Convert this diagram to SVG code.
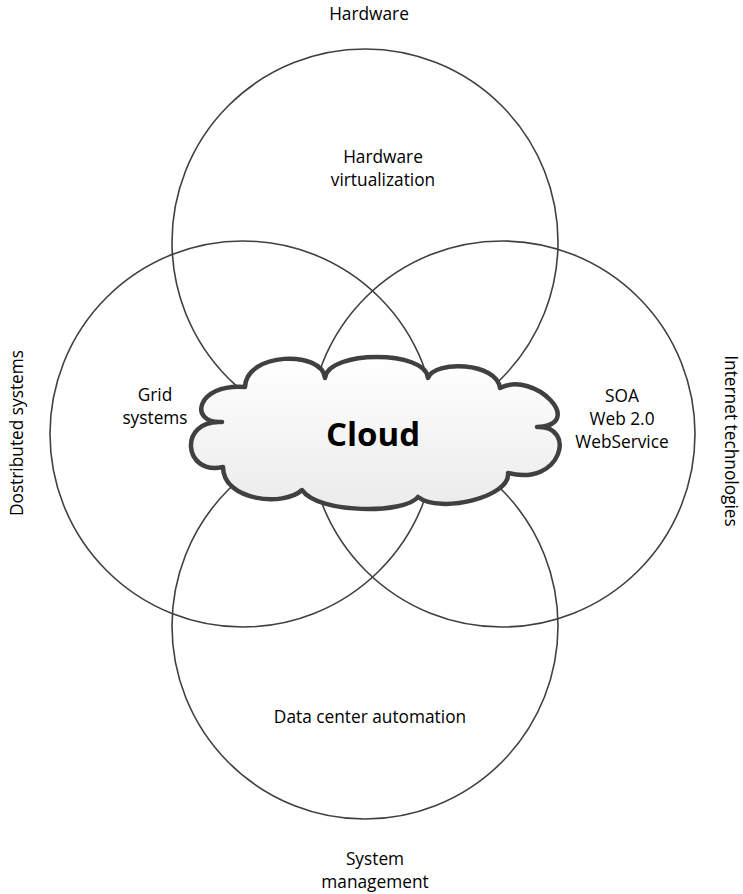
<svg xmlns="http://www.w3.org/2000/svg" width="743" height="894" viewBox="0 0 743 894">
<defs>
<linearGradient id="cloudFill" x1="0" y1="0" x2="0" y2="1">
<stop offset="0" stop-color="#ffffff"/>
<stop offset="1" stop-color="#ebebeb"/>
</linearGradient>
</defs>
<style>
.ring{fill:none;stroke:#404040;stroke-width:1.6}
.lbl{font-family:"Open Sans","Noto Sans","Liberation Sans",sans-serif;font-size:17.3px;fill:#000;text-anchor:middle}
.big{font-family:"Open Sans","Noto Sans","Liberation Sans",sans-serif;font-size:33px;font-weight:bold;fill:#000;text-anchor:middle}
</style>
<rect width="743" height="894" fill="#ffffff"/>
<g id="circle-hardware"><circle class="ring" cx="365" cy="242" r="193"/></g>
<g id="circle-distributed"><circle class="ring" cx="243" cy="434" r="193"/></g>
<g id="circle-internet"><circle class="ring" cx="502" cy="434" r="193"/></g>
<g id="circle-management"><circle class="ring" cx="365" cy="626" r="193"/></g>
<g id="connectors"/>
<g id="cloud">
<path d="M245,387 C246,352 322,350 325,378 C328,350 426,350 428,378 C434,360 497,362 500,388 C535,370 587,425 537,427 C577,425 562,487 508,473 C511,497 440,514 418,497 C405,514 318,514 302,490 C284,507 223,501 223,467 C183,476 178,419 222,422 C188,424 196,383 245,387 Z" fill="url(#cloudFill)" stroke="#404040" stroke-width="4.5" stroke-linejoin="round"/>
<text class="big" x="373" y="446">Cloud</text>
</g>
<g id="label-hardware"><text class="lbl" x="369" y="20">Hardware</text></g>
<g id="label-hw-virt"><text class="lbl" x="383" y="163">Hardware</text><text class="lbl" x="383" y="186">virtualization</text></g>
<g id="label-grid"><text class="lbl" x="155" y="401">Grid</text><text class="lbl" x="155" y="424">systems</text></g>
<g id="label-soa"><text class="lbl" x="622" y="402">SOA</text><text class="lbl" x="622" y="425">Web 2.0</text><text class="lbl" x="622" y="448">WebService</text></g>
<g id="label-dca"><text class="lbl" x="370" y="723">Data center automation</text></g>
<g id="label-sysman"><text class="lbl" x="375" y="865">System</text><text class="lbl" x="375" y="888">management</text></g>
<g id="label-distributed"><text class="lbl" transform="translate(23,433) rotate(-90)">Dostributed systems</text></g>
<g id="label-internet"><text class="lbl" transform="translate(725,441) rotate(90)">Internet technologies</text></g>
</svg>
